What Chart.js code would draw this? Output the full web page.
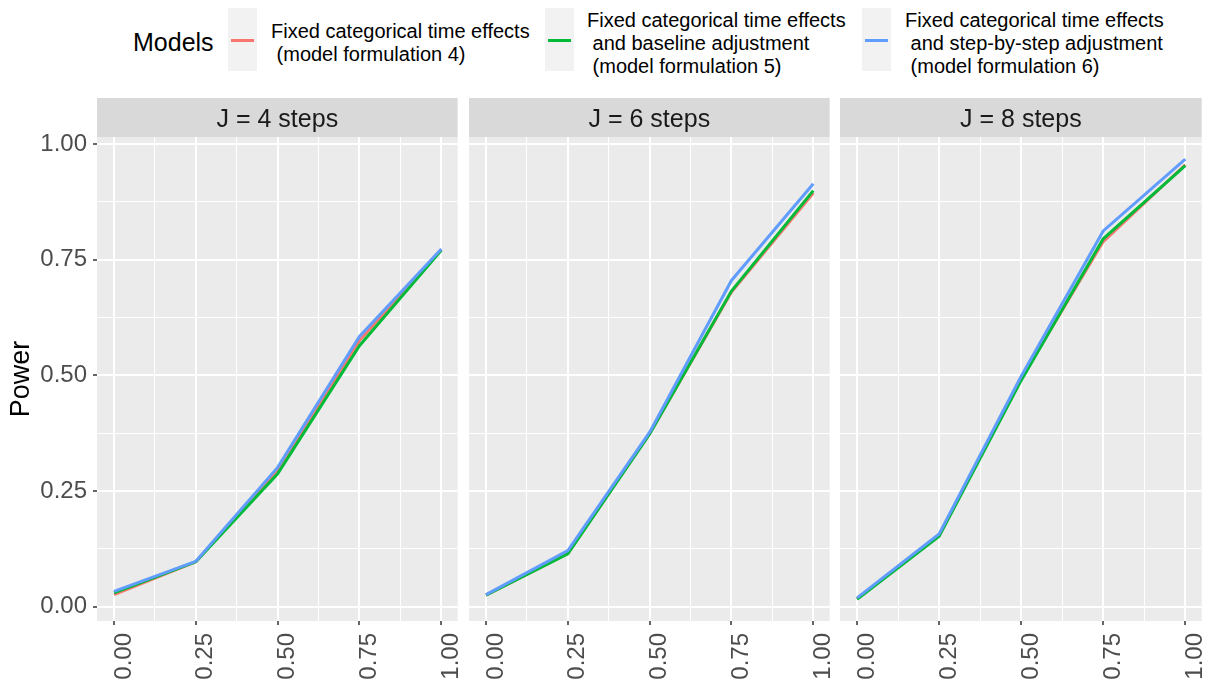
<!DOCTYPE html>
<html>
<head>
<meta charset="utf-8">
<script src="https://cdn.jsdelivr.net/npm/chart.js@4.4.1/dist/chart.umd.min.js"></script>
<style>
  html, body { margin: 0; padding: 0; background: #fff; overflow: hidden; }
  body { width: 1216px; height: 686px; position: relative; font-family: "Liberation Sans", Arial, sans-serif; }
  canvas { position: absolute; top: 98px; }
  .ltitle { position: absolute; top: 0; height: 84px; display: flex; align-items: center; font-size: 25px; color: #000; }
  .key { position: absolute; top: 8px; width: 29px; height: 63px; background: #f2f2f2; }
  .key span { position: absolute; left: 3px; right: 3px; top: 31px; height: 3px; }
  .ltext { position: absolute; top: 2px; height: 82px; display: flex; align-items: center; font-size: 20px; line-height: 23px; color: #000; white-space: pre; }
</style>
</head>
<body>
<div id="legend"></div>
<canvas id="p0" width="479" height="588" style="left:0px"></canvas>
<canvas id="p1" width="382" height="588" style="left:469px"></canvas>
<canvas id="p2" width="383" height="588" style="left:840px"></canvas>
<script>
const X_VALUES = [0, 0.25, 0.5, 0.75, 1]
const X_GRID = [0, 0.125, 0.25, 0.375, 0.5, 0.625, 0.75, 0.875, 1]
const Y_GRID = [0, 0.125, 0.25, 0.375, 0.5, 0.625, 0.75, 0.875, 1]
const PANELS = ['J = 4 steps', 'J = 6 steps', 'J = 8 steps']
const Y_TITLE = 'Power'

const LEGEND_TITLE = 'Models'
const MODEL_NAMES = [
  'Fixed categorical time effects\n (model formulation 4)',
  'Fixed categorical time effects\n and baseline adjustment\n (model formulation 5)',
  'Fixed categorical time effects\n and step-by-step adjustment\n (model formulation 6)',
]
const MODEL_COLORS = ['#F8766D', '#00BA38', '#619CFF']

// power per panel (J = 4, 6, 8), one row per panel
const POWER_M4 = [
  [0.026, 0.097, 0.295, 0.575, 0.772],
  [0.025, 0.115, 0.374, 0.680, 0.894],
  [0.017, 0.153, 0.492, 0.789, 0.955],
]
const POWER_M5 = [
  [0.030, 0.097, 0.287, 0.564, 0.770],
  [0.025, 0.114, 0.373, 0.682, 0.899],
  [0.016, 0.152, 0.489, 0.795, 0.953],
]
const POWER_M6 = [
  [0.033, 0.098, 0.301, 0.584, 0.773],
  [0.026, 0.121, 0.377, 0.705, 0.914],
  [0.019, 0.157, 0.498, 0.812, 0.967],
]
const SERIES = [POWER_M4, POWER_M5, POWER_M6]

// layout of the legend (page pixels)
const LEGEND_TITLE_X = 133
const LEGEND_KEY_X = [228, 545, 862]
const LEGEND_TEXT_X = [271, 587, 905]

const FONT = '"Liberation Sans", Arial, sans-serif'
const AXIS_TEXT = '#4d4d4d'
const TICK_MARK = '#333333'

Chart.defaults.font.family = FONT

function buildLegend() {
  const el = document.getElementById('legend')
  const t = document.createElement('div')
  t.className = 'ltitle'
  t.style.left = LEGEND_TITLE_X + 'px'
  t.textContent = LEGEND_TITLE
  el.appendChild(t)
  MODEL_NAMES.forEach((name, k) => {
    const key = document.createElement('div')
    key.className = 'key'
    key.style.left = LEGEND_KEY_X[k] + 'px'
    const line = document.createElement('span')
    line.style.background = MODEL_COLORS[k]
    key.appendChild(line)
    el.appendChild(key)
    const txt = document.createElement('div')
    txt.className = 'ltext'
    txt.style.left = LEGEND_TEXT_X[k] + 'px'
    txt.textContent = name
    el.appendChild(txt)
  })
}

const isMajor = (v) => Math.abs(v * 4 - Math.round(v * 4)) < 1e-6
const major = (c) => c.tick && isMajor(c.tick.value)

// grey panel background and facet strip
const panelPlugin = {
  id: 'panel',
  beforeDraw(chart, args, opts) {
    const { ctx, chartArea: a } = chart
    ctx.save()
    ctx.fillStyle = '#ebebeb'
    ctx.fillRect(a.left, a.top, a.right - a.left, a.bottom - a.top)
    ctx.fillStyle = '#d9d9d9'
    ctx.fillRect(a.left, 0, a.right - a.left, a.top)
    ctx.fillStyle = '#1a1a1a'
    ctx.font = '25px ' + FONT
    ctx.textAlign = 'center'
    ctx.textBaseline = 'middle'
    ctx.fillText(opts.strip, (a.left + a.right) / 2, a.top / 2 + 3)
    ctx.restore()
  },
}

function makePanel(i) {
  const first = i === 0
  return new Chart(document.getElementById('p' + i), {
    type: 'line',
    data: {
      datasets: MODEL_NAMES.map((name, k) => ({
        label: name,
        data: X_VALUES.map((x, j) => ({ x, y: SERIES[k][i][j] })),
        borderColor: MODEL_COLORS[k],
        borderWidth: 3,
        pointRadius: 0,
        tension: 0,
        order: 2 - k,
      })),
    },
    plugins: [panelPlugin],
    options: {
      responsive: false,
      animation: false,
      layout: { padding: { top: 39, right: 20, left: 0, bottom: 0 } },
      plugins: {
        legend: { display: false },
        tooltip: { enabled: false },
        panel: { strip: PANELS[i] },
      },
      scales: {
        x: {
          type: 'linear',
          min: -0.052,
          max: 1.05,
          afterBuildTicks: (s) => { s.ticks = X_GRID.map((v) => ({ value: v })) },
          afterFit: (s) => { s.height = 65 },
          border: { display: false },
          grid: {
            color: '#ffffff',
            lineWidth: (c) => (major(c) ? 2 : 1),
            tickLength: 4,
            tickColor: (c) => (major(c) ? TICK_MARK : 'rgba(0,0,0,0)'),
            tickWidth: 1.5,
          },
          ticks: {
            autoSkip: false,
            minRotation: 90,
            maxRotation: 90,
            padding: 8,
            labelOffset: 10,
            color: AXIS_TEXT,
            font: { size: 24, family: FONT },
            callback: (v) => (isMajor(v) ? v.toFixed(2) : ''),
          },
        },
        y: {
          min: -0.031,
          max: 1.015,
          afterBuildTicks: (s) => { s.ticks = Y_GRID.map((v) => ({ value: v })) },
          afterFit: (s) => { s.width = first ? 97 : 0 },
          border: { display: false },
          grid: {
            color: '#ffffff',
            lineWidth: (c) => (major(c) ? 2 : 1),
            drawTicks: first,
            tickLength: 4,
            tickColor: (c) => (major(c) ? TICK_MARK : 'rgba(0,0,0,0)'),
            tickWidth: 1.5,
          },
          ticks: {
            display: first,
            padding: 6,
            color: AXIS_TEXT,
            font: { size: 24, family: FONT },
            callback: (v) => (isMajor(v) ? v.toFixed(2) : ''),
          },
          title: {
            display: first,
            text: Y_TITLE,
            color: '#000000',
            font: { size: 27, family: FONT, weight: 'normal' },
            padding: { top: 5, bottom: 0 },
          },
        },
      },
    },
  })
}

buildLegend()
PANELS.forEach((_, i) => makePanel(i))
</script>
</body>
</html>
